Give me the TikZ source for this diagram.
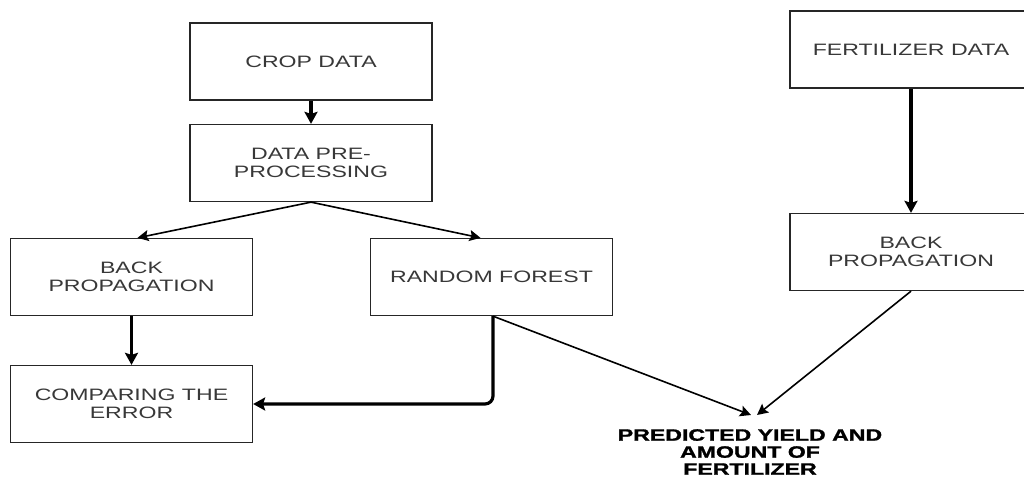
\documentclass[tikz,border=0pt]{standalone}
\usepackage{fontspec}
\usepackage{graphicx}
\setmainfont{Liberation Sans}
\newfontfamily\predfont[FakeBold=1.2]{Liberation Sans Bold}
\usetikzlibrary{arrows.meta}
\newcommand\sx[1]{\scalebox{1.4}[1]{#1}}
\tikzset{
  box/.style={draw=black!85, line width=1.3pt, minimum width=242pt, minimum height=77pt,
    inner sep=0pt, align=center, text=black!78, font=\fontsize{16.5}{18}\selectfont},
  thickarrow/.style={draw=black, line width=3.2pt, -{Stealth[length=12pt,width=13pt,inset=2pt]}},
  thinarrow/.style={draw=black, line width=1.6pt, -{Stealth[length=11pt,width=11pt,inset=2pt]}},
  predtext/.style={align=center, inner sep=0pt, font=\predfont\fontsize{16.5}{17}\selectfont, text=black}
}
\begin{document}
\begin{tikzpicture}[x=1pt,y=-1pt]
\useasboundingbox (0,0) rectangle (1024,477);
\clip (0,0) rectangle (1024,477);
\fill[white] (0,0) rectangle (1024,477);
\node[box] (crop) at (311,61.5) {\sx{CROP DATA}};
\node[box] (pre) at (311,163) {\sx{DATA PRE-}\\\sx{PROCESSING}};
\node[box] (bpl) at (131.5,277) {\sx{BACK}\\\sx{PROPAGATION}};
\node[box] (rf) at (491.5,277) {\sx{RANDOM FOREST}};
\node[box] (ce) at (131.5,404) {\sx{COMPARING THE}\\\sx{ERROR}};
\node[box] (fd) at (911,49.5) {\sx{FERTILIZER DATA}};
\node[box] (bpr) at (911,252) {\sx{BACK}\\\sx{PROPAGATION}};
\node[predtext, anchor=north] (pred) at (750,429) {\sx{PREDICTED YIELD AND}\\\sx{AMOUNT OF}\\\sx{FERTILIZER}};
\coordinate (tipa) at (751,415);
\coordinate (tipb) at (757,415);
\draw[thickarrow] (crop.south) -- (pre.north);
\draw[thinarrow] (pre.south) -- ([xshift=6pt]bpl.north);
\draw[thinarrow] (pre.south) -- ([xshift=-11pt]rf.north);
\draw[thickarrow] (bpl.south) -- (ce.north);
\draw[thickarrow, rounded corners=8pt] ([xshift=1.5pt]rf.south) |- (ce.east);
\draw[thinarrow] ([xshift=1.5pt]rf.south) -- (tipa);
\draw[thickarrow] (fd.south) -- (bpr.north);
\draw[thinarrow] (bpr.south) -- (tipb);
\end{tikzpicture}
\end{document}
